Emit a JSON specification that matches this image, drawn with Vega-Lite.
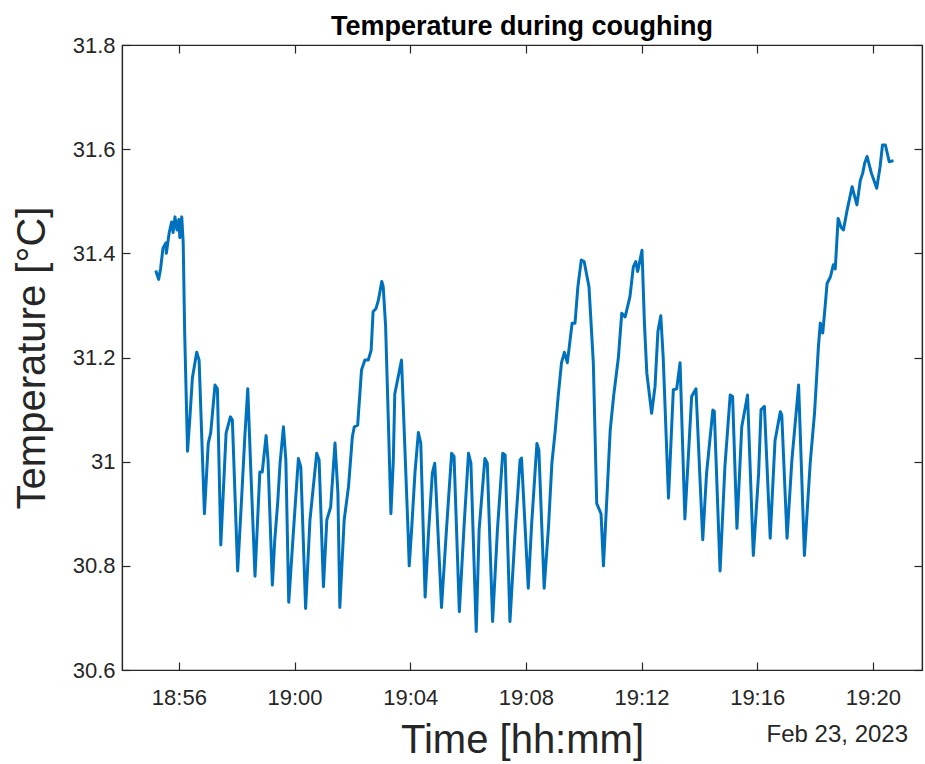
{
  "$schema": "https://vega.github.io/schema/vega-lite/v6.json",
  "width": 800,
  "height": 625,
  "autosize": {"type": "none"},
  "padding": {"left": 122, "top": 45, "right": 3, "bottom": 94},
  "background": "white",
  "title": {
    "text": "Temperature during coughing",
    "font": "Liberation Sans",
    "fontSize": 27,
    "fontWeight": "bold",
    "color": "#000000",
    "anchor": "middle",
    "offset": -7
  },
  "config": {
    "view": {"stroke": "#262626", "strokeWidth": 1.2},
    "axis": {
      "grid": false,
      "labelFont": "Liberation Sans",
      "labelFontSize": 22,
      "labelColor": "#262626",
      "titleFont": "Liberation Sans",
      "titleFontSize": 40,
      "titleFontWeight": "normal",
      "titleColor": "#262626",
      "tickColor": "#262626",
      "domainColor": "#262626",
      "domainWidth": 1.2,
      "tickWidth": 1.2,
      "tickSize": -8
    }
  },
  "data": {
    "values": [
      {"time": "2023-02-23T18:55:12", "temp": 31.367},
      {"time": "2023-02-23T18:55:18", "temp": 31.35},
      {"time": "2023-02-23T18:55:22", "temp": 31.37},
      {"time": "2023-02-23T18:55:27", "temp": 31.41},
      {"time": "2023-02-23T18:55:33", "temp": 31.42},
      {"time": "2023-02-23T18:55:34", "temp": 31.40},
      {"time": "2023-02-23T18:55:40", "temp": 31.44},
      {"time": "2023-02-23T18:55:45", "temp": 31.46},
      {"time": "2023-02-23T18:55:48", "temp": 31.44},
      {"time": "2023-02-23T18:55:52", "temp": 31.47},
      {"time": "2023-02-23T18:55:56", "temp": 31.445},
      {"time": "2023-02-23T18:56:00", "temp": 31.465},
      {"time": "2023-02-23T18:56:02", "temp": 31.43},
      {"time": "2023-02-23T18:56:06", "temp": 31.47},
      {"time": "2023-02-23T18:56:09", "temp": 31.42},
      {"time": "2023-02-23T18:56:12", "temp": 31.25},
      {"time": "2023-02-23T18:56:18", "temp": 31.02},
      {"time": "2023-02-23T18:56:23", "temp": 31.086},
      {"time": "2023-02-23T18:56:28", "temp": 31.16},
      {"time": "2023-02-23T18:56:37", "temp": 31.21},
      {"time": "2023-02-23T18:56:42", "temp": 31.195},
      {"time": "2023-02-23T18:56:53", "temp": 30.90},
      {"time": "2023-02-23T18:57:01", "temp": 31.035},
      {"time": "2023-02-23T18:57:06", "temp": 31.055},
      {"time": "2023-02-23T18:57:15", "temp": 31.147},
      {"time": "2023-02-23T18:57:20", "temp": 31.14},
      {"time": "2023-02-23T18:57:27", "temp": 30.84},
      {"time": "2023-02-23T18:57:38", "temp": 31.055},
      {"time": "2023-02-23T18:57:47", "temp": 31.086},
      {"time": "2023-02-23T18:57:51", "temp": 31.08},
      {"time": "2023-02-23T18:58:02", "temp": 30.79},
      {"time": "2023-02-23T18:58:10", "temp": 30.926},
      {"time": "2023-02-23T18:58:17", "temp": 31.05},
      {"time": "2023-02-23T18:58:23", "temp": 31.14},
      {"time": "2023-02-23T18:58:29", "temp": 30.99},
      {"time": "2023-02-23T18:58:38", "temp": 30.78},
      {"time": "2023-02-23T18:58:48", "temp": 30.98},
      {"time": "2023-02-23T18:58:53", "temp": 30.98},
      {"time": "2023-02-23T18:59:01", "temp": 31.05},
      {"time": "2023-02-23T18:59:05", "temp": 31.003},
      {"time": "2023-02-23T18:59:14", "temp": 30.763},
      {"time": "2023-02-23T18:59:19", "temp": 30.85},
      {"time": "2023-02-23T18:59:25", "temp": 30.92},
      {"time": "2023-02-23T18:59:30", "temp": 30.997},
      {"time": "2023-02-23T18:59:37", "temp": 31.067},
      {"time": "2023-02-23T18:59:42", "temp": 31.003},
      {"time": "2023-02-23T18:59:48", "temp": 30.73},
      {"time": "2023-02-23T18:59:57", "temp": 30.856},
      {"time": "2023-02-23T19:00:08", "temp": 31.006},
      {"time": "2023-02-23T19:00:13", "temp": 30.99},
      {"time": "2023-02-23T19:00:23", "temp": 30.718},
      {"time": "2023-02-23T19:00:32", "temp": 30.888},
      {"time": "2023-02-23T19:00:46", "temp": 31.016},
      {"time": "2023-02-23T19:00:51", "temp": 31.003},
      {"time": "2023-02-23T19:01:00", "temp": 30.76},
      {"time": "2023-02-23T19:01:07", "temp": 30.888},
      {"time": "2023-02-23T19:01:15", "temp": 30.913},
      {"time": "2023-02-23T19:01:24", "temp": 31.036},
      {"time": "2023-02-23T19:01:30", "temp": 30.94},
      {"time": "2023-02-23T19:01:34", "temp": 30.72},
      {"time": "2023-02-23T19:01:43", "temp": 30.888},
      {"time": "2023-02-23T19:01:52", "temp": 30.952},
      {"time": "2023-02-23T19:02:00", "temp": 31.048},
      {"time": "2023-02-23T19:02:04", "temp": 31.067},
      {"time": "2023-02-23T19:02:11", "temp": 31.07},
      {"time": "2023-02-23T19:02:19", "temp": 31.176},
      {"time": "2023-02-23T19:02:26", "temp": 31.195},
      {"time": "2023-02-23T19:02:33", "temp": 31.195},
      {"time": "2023-02-23T19:02:39", "temp": 31.214},
      {"time": "2023-02-23T19:02:43", "temp": 31.288},
      {"time": "2023-02-23T19:02:49", "temp": 31.294},
      {"time": "2023-02-23T19:02:54", "temp": 31.31},
      {"time": "2023-02-23T19:03:01", "temp": 31.346},
      {"time": "2023-02-23T19:03:04", "temp": 31.336},
      {"time": "2023-02-23T19:03:09", "temp": 31.26},
      {"time": "2023-02-23T19:03:15", "temp": 31.067},
      {"time": "2023-02-23T19:03:20", "temp": 30.90},
      {"time": "2023-02-23T19:03:25", "temp": 31.003},
      {"time": "2023-02-23T19:03:28", "temp": 31.13},
      {"time": "2023-02-23T19:03:42", "temp": 31.195},
      {"time": "2023-02-23T19:03:56", "temp": 30.856},
      {"time": "2023-02-23T19:03:58", "temp": 30.80},
      {"time": "2023-02-23T19:04:03", "temp": 30.87},
      {"time": "2023-02-23T19:04:10", "temp": 30.98},
      {"time": "2023-02-23T19:04:17", "temp": 31.056},
      {"time": "2023-02-23T19:04:22", "temp": 31.035},
      {"time": "2023-02-23T19:04:31", "temp": 30.74},
      {"time": "2023-02-23T19:04:38", "temp": 30.863},
      {"time": "2023-02-23T19:04:46", "temp": 30.978},
      {"time": "2023-02-23T19:04:51", "temp": 30.997},
      {"time": "2023-02-23T19:05:05", "temp": 30.72},
      {"time": "2023-02-23T19:05:16", "temp": 30.88},
      {"time": "2023-02-23T19:05:26", "temp": 31.016},
      {"time": "2023-02-23T19:05:31", "temp": 31.01},
      {"time": "2023-02-23T19:05:42", "temp": 30.712},
      {"time": "2023-02-23T19:05:52", "temp": 30.88},
      {"time": "2023-02-23T19:06:01", "temp": 31.016},
      {"time": "2023-02-23T19:06:06", "temp": 30.997},
      {"time": "2023-02-23T19:06:17", "temp": 30.674},
      {"time": "2023-02-23T19:06:23", "temp": 30.869},
      {"time": "2023-02-23T19:06:35", "temp": 31.006},
      {"time": "2023-02-23T19:06:40", "temp": 30.997},
      {"time": "2023-02-23T19:06:51", "temp": 30.693},
      {"time": "2023-02-23T19:07:01", "temp": 30.869},
      {"time": "2023-02-23T19:07:12", "temp": 31.016},
      {"time": "2023-02-23T19:07:17", "temp": 31.013},
      {"time": "2023-02-23T19:07:27", "temp": 30.693},
      {"time": "2023-02-23T19:07:38", "temp": 30.869},
      {"time": "2023-02-23T19:07:48", "temp": 31.003},
      {"time": "2023-02-23T19:07:51", "temp": 31.007},
      {"time": "2023-02-23T19:08:05", "temp": 30.757},
      {"time": "2023-02-23T19:08:12", "temp": 30.88},
      {"time": "2023-02-23T19:08:23", "temp": 31.035},
      {"time": "2023-02-23T19:08:27", "temp": 31.022},
      {"time": "2023-02-23T19:08:38", "temp": 30.757},
      {"time": "2023-02-23T19:08:47", "temp": 30.875},
      {"time": "2023-02-23T19:08:54", "temp": 30.997},
      {"time": "2023-02-23T19:09:01", "temp": 31.06},
      {"time": "2023-02-23T19:09:07", "temp": 31.125},
      {"time": "2023-02-23T19:09:14", "temp": 31.19},
      {"time": "2023-02-23T19:09:20", "temp": 31.21},
      {"time": "2023-02-23T19:09:26", "temp": 31.19},
      {"time": "2023-02-23T19:09:30", "temp": 31.22},
      {"time": "2023-02-23T19:09:36", "temp": 31.266},
      {"time": "2023-02-23T19:09:42", "temp": 31.266},
      {"time": "2023-02-23T19:09:48", "temp": 31.336},
      {"time": "2023-02-23T19:09:55", "temp": 31.387},
      {"time": "2023-02-23T19:10:01", "temp": 31.384},
      {"time": "2023-02-23T19:10:06", "temp": 31.36},
      {"time": "2023-02-23T19:10:11", "temp": 31.336},
      {"time": "2023-02-23T19:10:20", "temp": 31.19},
      {"time": "2023-02-23T19:10:27", "temp": 30.92},
      {"time": "2023-02-23T19:10:36", "temp": 30.90},
      {"time": "2023-02-23T19:10:41", "temp": 30.80},
      {"time": "2023-02-23T19:10:50", "temp": 30.965},
      {"time": "2023-02-23T19:10:55", "temp": 31.06},
      {"time": "2023-02-23T19:11:02", "temp": 31.125},
      {"time": "2023-02-23T19:11:12", "temp": 31.20},
      {"time": "2023-02-23T19:11:19", "temp": 31.285},
      {"time": "2023-02-23T19:11:26", "temp": 31.278},
      {"time": "2023-02-23T19:11:36", "temp": 31.317},
      {"time": "2023-02-23T19:11:43", "temp": 31.374},
      {"time": "2023-02-23T19:11:48", "temp": 31.384},
      {"time": "2023-02-23T19:11:52", "temp": 31.365},
      {"time": "2023-02-23T19:12:01", "temp": 31.406},
      {"time": "2023-02-23T19:12:06", "temp": 31.266},
      {"time": "2023-02-23T19:12:11", "temp": 31.17},
      {"time": "2023-02-23T19:12:21", "temp": 31.093},
      {"time": "2023-02-23T19:12:28", "temp": 31.144},
      {"time": "2023-02-23T19:12:34", "temp": 31.25},
      {"time": "2023-02-23T19:12:40", "temp": 31.28},
      {"time": "2023-02-23T19:12:45", "temp": 31.2},
      {"time": "2023-02-23T19:12:56", "temp": 30.93},
      {"time": "2023-02-23T19:13:06", "temp": 31.138},
      {"time": "2023-02-23T19:13:13", "temp": 31.14},
      {"time": "2023-02-23T19:13:20", "temp": 31.19},
      {"time": "2023-02-23T19:13:30", "temp": 30.89},
      {"time": "2023-02-23T19:13:44", "temp": 31.125},
      {"time": "2023-02-23T19:13:53", "temp": 31.14},
      {"time": "2023-02-23T19:14:07", "temp": 30.85},
      {"time": "2023-02-23T19:14:15", "temp": 30.978},
      {"time": "2023-02-23T19:14:28", "temp": 31.099},
      {"time": "2023-02-23T19:14:31", "temp": 31.097},
      {"time": "2023-02-23T19:14:43", "temp": 30.79},
      {"time": "2023-02-23T19:14:53", "temp": 30.99},
      {"time": "2023-02-23T19:15:04", "temp": 31.128},
      {"time": "2023-02-23T19:15:09", "temp": 31.125},
      {"time": "2023-02-23T19:15:18", "temp": 30.872},
      {"time": "2023-02-23T19:15:28", "temp": 31.067},
      {"time": "2023-02-23T19:15:40", "temp": 31.128},
      {"time": "2023-02-23T19:15:52", "temp": 30.82},
      {"time": "2023-02-23T19:16:03", "temp": 30.978},
      {"time": "2023-02-23T19:16:08", "temp": 31.10},
      {"time": "2023-02-23T19:16:15", "temp": 31.106},
      {"time": "2023-02-23T19:16:27", "temp": 30.853},
      {"time": "2023-02-23T19:16:37", "temp": 31.04},
      {"time": "2023-02-23T19:16:48", "temp": 31.096},
      {"time": "2023-02-23T19:16:51", "temp": 31.09},
      {"time": "2023-02-23T19:17:02", "temp": 30.853},
      {"time": "2023-02-23T19:17:12", "temp": 31.003},
      {"time": "2023-02-23T19:17:26", "temp": 31.147},
      {"time": "2023-02-23T19:17:38", "temp": 30.82},
      {"time": "2023-02-23T19:17:50", "temp": 30.997},
      {"time": "2023-02-23T19:17:59", "temp": 31.093},
      {"time": "2023-02-23T19:18:07", "temp": 31.22},
      {"time": "2023-02-23T19:18:11", "temp": 31.266},
      {"time": "2023-02-23T19:18:16", "temp": 31.247},
      {"time": "2023-02-23T19:18:21", "temp": 31.298},
      {"time": "2023-02-23T19:18:25", "temp": 31.342},
      {"time": "2023-02-23T19:18:32", "temp": 31.355},
      {"time": "2023-02-23T19:18:38", "temp": 31.378},
      {"time": "2023-02-23T19:18:42", "temp": 31.37},
      {"time": "2023-02-23T19:18:48", "temp": 31.467},
      {"time": "2023-02-23T19:18:54", "temp": 31.45},
      {"time": "2023-02-23T19:18:59", "temp": 31.445},
      {"time": "2023-02-23T19:19:06", "temp": 31.48},
      {"time": "2023-02-23T19:19:17", "temp": 31.528},
      {"time": "2023-02-23T19:19:22", "temp": 31.51},
      {"time": "2023-02-23T19:19:27", "temp": 31.493},
      {"time": "2023-02-23T19:19:34", "temp": 31.54},
      {"time": "2023-02-23T19:19:39", "temp": 31.554},
      {"time": "2023-02-23T19:19:43", "temp": 31.573},
      {"time": "2023-02-23T19:19:48", "temp": 31.586},
      {"time": "2023-02-23T19:19:57", "temp": 31.554},
      {"time": "2023-02-23T19:20:08", "temp": 31.525},
      {"time": "2023-02-23T19:20:15", "temp": 31.566},
      {"time": "2023-02-23T19:20:20", "temp": 31.608},
      {"time": "2023-02-23T19:20:26", "temp": 31.608},
      {"time": "2023-02-23T19:20:34", "temp": 31.576},
      {"time": "2023-02-23T19:20:43", "temp": 31.578}
    ]
  },
  "layer": [
    {
      "mark": {"type": "line", "color": "#0072BD", "strokeWidth": 3, "clip": true, "strokeJoin": "round"},
      "encoding": {
        "x": {
          "field": "time",
          "type": "temporal",
          "scale": {"domain": [
            {"year": 2023, "month": 2, "date": 23, "hours": 18, "minutes": 54, "seconds": 2},
            {"year": 2023, "month": 2, "date": 23, "hours": 19, "minutes": 21, "seconds": 42}
          ]},
          "axis": {
            "orient": "bottom",
            "title": "Time [hh:mm]",
            "format": "%H:%M",
            "values": [
              {"year": 2023, "month": 2, "date": 23, "hours": 18, "minutes": 56},
              {"year": 2023, "month": 2, "date": 23, "hours": 19, "minutes": 0},
              {"year": 2023, "month": 2, "date": 23, "hours": 19, "minutes": 4},
              {"year": 2023, "month": 2, "date": 23, "hours": 19, "minutes": 8},
              {"year": 2023, "month": 2, "date": 23, "hours": 19, "minutes": 12},
              {"year": 2023, "month": 2, "date": 23, "hours": 19, "minutes": 16},
              {"year": 2023, "month": 2, "date": 23, "hours": 19, "minutes": 20}
            ],
            "labelPadding": 25,
            "titlePadding": 12
          }
        },
        "y": {
          "field": "temp",
          "type": "quantitative",
          "scale": {"domain": [30.6, 31.8], "nice": false, "zero": false},
          "axis": {
            "orient": "left",
            "title": "Temperature [°C]",
            "values": [30.6, 30.8, 31.0, 31.2, 31.4, 31.6, 31.8],
            "format": ".1~f",
            "labelPadding": 15,
            "titlePadding": 20
          }
        }
      }
    },
    {
      "mark": {"type": "line", "strokeOpacity": 0},
      "encoding": {
        "x": {
          "field": "time",
          "type": "temporal",
          "axis": {
            "orient": "top",
            "title": null,
            "labels": false,
            "values": [
              {"year": 2023, "month": 2, "date": 23, "hours": 18, "minutes": 56},
              {"year": 2023, "month": 2, "date": 23, "hours": 19, "minutes": 0},
              {"year": 2023, "month": 2, "date": 23, "hours": 19, "minutes": 4},
              {"year": 2023, "month": 2, "date": 23, "hours": 19, "minutes": 8},
              {"year": 2023, "month": 2, "date": 23, "hours": 19, "minutes": 12},
              {"year": 2023, "month": 2, "date": 23, "hours": 19, "minutes": 16},
              {"year": 2023, "month": 2, "date": 23, "hours": 19, "minutes": 20}
            ]
          }
        },
        "y": {
          "field": "temp",
          "type": "quantitative",
          "axis": {
            "orient": "right",
            "title": null,
            "labels": false,
            "values": [30.6, 30.8, 31.0, 31.2, 31.4, 31.6, 31.8]
          }
        }
      }
    },
    {
      "data": {"values": [{"label": "Feb 23, 2023"}]},
      "mark": {
        "type": "text",
        "align": "right",
        "baseline": "alphabetic",
        "font": "Liberation Sans",
        "fontSize": 24,
        "color": "#262626"
      },
      "encoding": {
        "x": {
          "datum": {"year": 2023, "month": 2, "date": 23, "hours": 19, "minutes": 21, "seconds": 13},
          "type": "temporal",
          "axis": null
        },
        "y": {"datum": 30.462, "type": "quantitative", "axis": null},
        "text": {"field": "label"}
      }
    }
  ],
  "resolve": {"axis": {"x": "independent", "y": "independent"}}
}
